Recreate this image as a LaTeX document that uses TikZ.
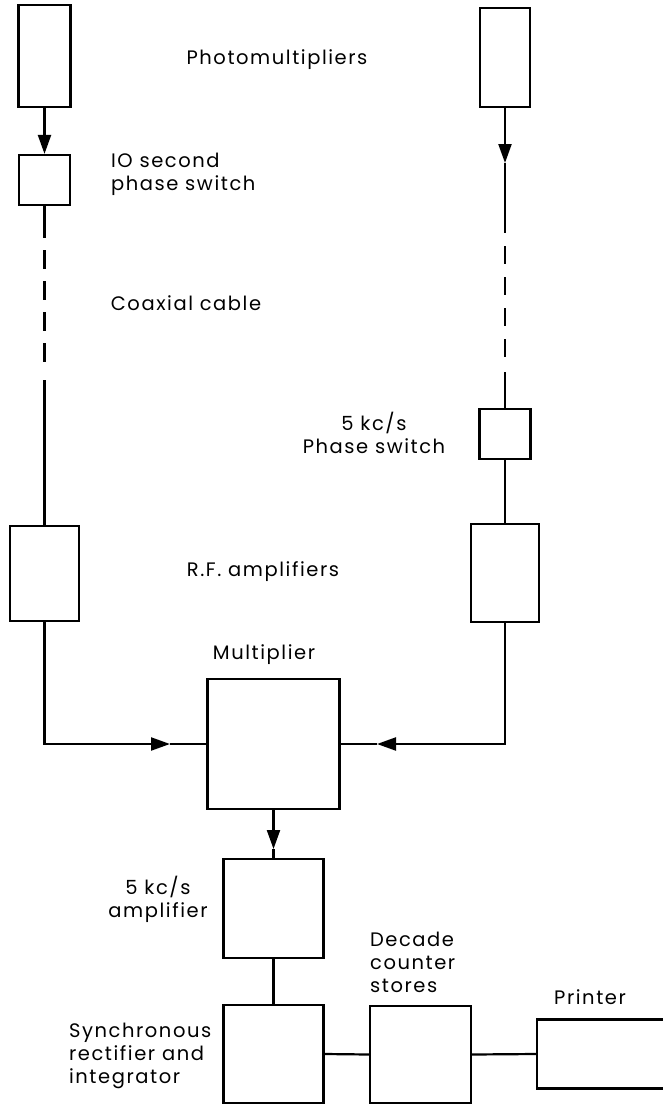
\documentclass[tikz,border=0pt]{standalone}
\usepackage{fontspec}
\setmainfont[LetterSpace=8]{Poppins}
\usetikzlibrary{arrows.meta}
\begin{document}
\begin{tikzpicture}[x=1pt,y=-1pt,
  line width=2.2pt,
  blk/.style={draw, inner sep=0pt, line width=2.2pt},
  lbl/.style={inner sep=0pt, font=\fontsize{19.5}{23}\selectfont},
  arr/.style={-{Triangle[length=19pt,width=13pt]}},
  dashpat/.style={dash pattern=on 19pt off 12pt}]
\useasboundingbox (0,0) rectangle (662,1105);
% blocks
\node[blk, minimum width=52pt, minimum height=102pt] (pmL) at (44.5,56) {};
\node[blk, minimum width=51pt, minimum height=50pt] (psL) at (44.5,180) {};
\node[blk, minimum width=50pt, minimum height=99pt] (pmR) at (505,57.5) {};
\node[blk, minimum width=51pt, minimum height=50pt] (psR) at (505,434) {};
\node[blk, minimum width=69pt, minimum height=95pt] (rfL) at (44.5,573.5) {};
\node[blk, minimum width=68pt, minimum height=98pt] (rfR) at (505,573) {};
\node[blk, minimum width=132pt, minimum height=130pt] (mult) at (273.5,744) {};
\node[blk, minimum width=100pt, minimum height=99pt] (amp) at (273.5,908.5) {};
\node[blk, minimum width=100pt, minimum height=98pt] (sync) at (273.5,1054) {};
\node[blk, minimum width=101pt, minimum height=97pt] (dec) at (420.5,1054.5) {};
\node[blk, minimum width=143pt, minimum height=69pt] (prn) at (608.5,1054) {};
% coordinates
\coordinate (a1) at (44.5,238);
\coordinate (a2) at (44.5,250);
\coordinate (a3) at (44.5,362);
\coordinate (a4) at (44.5,380);
\coordinate (r0) at (505,163);
\coordinate (r1) at (505,233);
\coordinate (r2) at (505,246);
\coordinate (r3) at (505,358);
\coordinate (r4) at (505,372);
\coordinate (lA) at (170,744);
\coordinate (rA) at (377,744);
\coordinate (mA) at (273.5,849);
% connectors
\draw[arr] (pmL.south) -- (psL.north);
\draw (psL.south) -- (a1);
\draw[dashpat] (a2) -- (a3);
\draw (a4) -- (rfL.north);
\draw[arr] (pmR.south) -- (r0);
\draw (r0) -- (r1);
\draw[dash pattern=on 18pt off 13pt] (r2) -- (r3);
\draw (r4) -- (psR.north);
\draw (psR.south) -- (rfR.north);
\draw[arr] (rfL.south) |- (lA);
\draw (lA) -- (mult.west);
\draw[arr] (rfR.south) |- (rA);
\draw (rA) -- (mult.east);
\draw[arr] (mult.south) -- (mA);
\draw (mA) -- (amp.north);
\draw (amp.south) -- (sync.north);
\draw (sync.east) -- (dec.west);
\draw (dec.east) -- (prn.west);
% labels
\node[lbl] (tPM) at (277,60) {Photomultipliers};
\node[lbl, anchor=west, align=left] (tPSL) at (110,174) {IO second\\phase switch};
\node[lbl] (tCoax) at (186,303) {Coaxial cable};
\node[lbl, align=center] (tPSR) at (374,433) {5 kc/s\\Phase switch};
\node[lbl] (tRF) at (263,572) {R.F. amplifiers};
\node[lbl] (tMult) at (264,655) {Multiplier};
\node[lbl, align=center] (tAmp) at (158,899) {5 kc/s\\amplifier};
\node[lbl, anchor=west, align=left] (tSync) at (68,1056) {Synchronous\\rectifier and\\integrator};
\node[lbl, anchor=west, align=left] (tDec) at (369,962) {Decade\\counter\\stores};
\node[lbl] (tPrn) at (590,997) {Printer};
\end{tikzpicture}
\end{document}
